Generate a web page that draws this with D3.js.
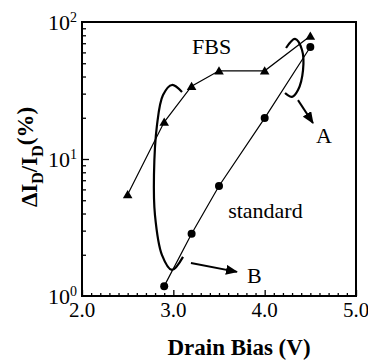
<!DOCTYPE html>
<html>
<head>
<meta charset="utf-8">
<script src="https://cdn.jsdelivr.net/npm/d3@7"></script>
<style>
  body { margin: 0; background: #fff; }
</style>
</head>
<body>
<div id="chart"></div>
<script>
// data
const fbsBias = [2.5, 2.9, 3.2, 3.5, 4.0, 4.5];
const fbsDelta = [5.5, 18.6, 34, 44, 44, 79];
const stdBias = [2.9, 3.2, 3.5, 4.0, 4.5];
const stdDelta = [1.18, 2.85, 6.35, 19.9, 65.7];

const xTickLabels = [2.0, 3.0, 4.0, 5.0];
const yTickLabels = [{ v: 1, e: '0' }, { v: 10, e: '1' }, { v: 100, e: '2' }];

// annotation curves, in data units (bias, %)
const loopA = [[4.234, 64.6], [4.332, 75.2], [4.409, 62.5], [4.42, 44.6], [4.365, 31.9], [4.299, 28.4], [4.223, 30.3]];
const loopB = [[3.095, 30.8], [2.985, 34.7], [2.887, 29.3], [2.821, 17.7], [2.788, 7.64], [2.799, 3.9], [2.876, 1.99], [2.985, 1.55], [3.106, 1.93]];
const arrowA = [[4.365, 26.9], [4.529, 18.3]];
const arrowB = [[3.193, 1.74], [3.697, 1.5]];
const labels = [
  { t: 'FBS', x: 3.42, y: 58.4, anchor: 'middle' },
  { t: 'standard', x: 3.6, y: 3.71, anchor: 'start' },
  { t: 'A', x: 4.562, y: 13.1, anchor: 'start' },
  { t: 'B', x: 3.807, y: 1.24, anchor: 'start' }
];

const FONT = '"Liberation Serif", "DejaVu Serif", "Times New Roman", serif';
const width = 368, height = 362;
const mLeft = 82, mRight = 356, mTop = 22, mBottom = 296;

const svg = d3.select('#chart').append('svg')
  .attr('width', width)
  .attr('height', height)
  .attr('font-family', FONT);

const x = d3.scaleLinear().domain([2, 5]).range([mLeft, mRight]);
const y = d3.scaleLog().domain([1, 100]).range([mBottom, mTop]);

// x ticks, inward
const xMinor = d3.range(20, 51).map(d => d / 10).filter(d => Math.abs(d - Math.round(d)) > 0.01);
svg.append('g')
  .attr('transform', 'translate(0,' + mBottom + ')')
  .call(d3.axisBottom(x).tickValues(xMinor).tickSize(-3).tickFormat(''))
  .call(g => g.select('.domain').remove());
svg.append('g')
  .attr('transform', 'translate(0,' + mBottom + ')')
  .call(d3.axisBottom(x).tickValues(xTickLabels).tickSize(-6).tickFormat(''))
  .call(g => g.select('.domain').remove());

// y ticks, inward
const yMinor = [];
for (const dec of [1, 10]) {
  for (let k = 2; k <= 9; k++) { yMinor.push(dec * k); }
}
svg.append('g')
  .attr('transform', 'translate(' + mLeft + ',0)')
  .call(d3.axisLeft(y).tickValues(yMinor).tickSize(-4).tickFormat(''))
  .call(g => g.select('.domain').remove());
svg.append('g')
  .attr('transform', 'translate(' + mLeft + ',0)')
  .call(d3.axisLeft(y).tickValues([10]).tickSize(-7).tickFormat(''))
  .call(g => g.select('.domain').remove());

svg.selectAll('.tick line').attr('stroke', '#000').attr('stroke-width', 1.3);

// frame
svg.append('rect')
  .attr('x', mLeft).attr('y', mTop)
  .attr('width', mRight - mLeft).attr('height', mBottom - mTop)
  .attr('fill', 'none')
  .attr('stroke', '#000')
  .attr('stroke-width', 2);

// tick labels
svg.selectAll('text.xlab')
  .data(xTickLabels)
  .enter()
  .append('text')
  .attr('class', 'xlab')
  .attr('x', d => x(d))
  .attr('y', 317)
  .attr('text-anchor', 'middle')
  .style('font-family', FONT)
  .style('font-size', '21px')
  .text(d => d.toFixed(1));

const ylab = svg.selectAll('text.ylab')
  .data(yTickLabels)
  .enter()
  .append('text')
  .attr('class', 'ylab')
  .attr('x', 77)
  .attr('y', d => y(d.v) + 7.5)
  .attr('text-anchor', 'end')
  .style('font-family', FONT)
  .style('font-size', '22px');
ylab.append('tspan').text('10');
ylab.append('tspan').attr('dy', -8).style('font-size', '14px').text(d => d.e);

// axis titles
svg.append('text')
  .attr('x', 239)
  .attr('y', 355)
  .attr('text-anchor', 'middle')
  .style('font-family', FONT)
  .style('font-size', '23px')
  .style('font-weight', 'bold')
  .text('Drain Bias (V)');

const yt = svg.append('text')
  .attr('transform', 'translate(37,157) rotate(-90)')
  .attr('text-anchor', 'middle')
  .style('font-family', FONT)
  .style('font-size', '23px')
  .style('font-weight', 'bold');
yt.append('tspan').text('\u0394I');
yt.append('tspan').attr('dy', 6).style('font-size', '16px').text('D');
yt.append('tspan').attr('dy', -6).text('/I');
yt.append('tspan').attr('dy', 6).style('font-size', '16px').text('D');
yt.append('tspan').attr('dy', -10).text('(%)');

// series lines
const line = d3.line()
  .x(d => x(d[0]))
  .y(d => y(d[1]));

const fbsPts = fbsBias.map((b, i) => [b, fbsDelta[i]]);
const stdPts = stdBias.map((b, i) => [b, stdDelta[i]]);

svg.append('path')
  .datum(fbsPts)
  .attr('fill', 'none')
  .attr('stroke', '#000')
  .attr('stroke-width', 1.2)
  .attr('d', line);

svg.append('path')
  .datum(stdPts)
  .attr('fill', 'none')
  .attr('stroke', '#000')
  .attr('stroke-width', 1.2)
  .attr('d', line);

// markers
svg.selectAll('path.tri')
  .data(fbsPts)
  .enter()
  .append('path')
  .attr('class', 'tri')
  .attr('d', d3.symbol().type(d3.symbolTriangle).size(40))
  .attr('transform', d => 'translate(' + x(d[0]) + ',' + (y(d[1]) + 1) + ')')
  .attr('fill', '#000');

svg.selectAll('circle.std')
  .data(stdPts)
  .enter()
  .append('circle')
  .attr('class', 'std')
  .attr('cx', d => x(d[0]))
  .attr('cy', d => y(d[1]))
  .attr('r', 4)
  .attr('fill', '#000');

// annotations
svg.append('defs').append('marker')
  .attr('id', 'head')
  .attr('markerUnits', 'userSpaceOnUse')
  .attr('viewBox', '0 0 12 10')
  .attr('refX', 11).attr('refY', 5)
  .attr('markerWidth', 12).attr('markerHeight', 10)
  .attr('orient', 'auto')
  .append('path')
  .attr('d', 'M0,0L12,5L0,10Z')
  .attr('fill', '#000');

const curve = d3.line()
  .x(d => x(d[0]))
  .y(d => y(d[1]))
  .curve(d3.curveCatmullRom);

for (const c of [loopA, loopB]) {
  svg.append('path')
    .datum(c)
    .attr('fill', 'none')
    .attr('stroke', '#000')
    .attr('stroke-width', 2.2)
    .attr('d', curve);
}

for (const a of [arrowA, arrowB]) {
  svg.append('path')
    .datum(a)
    .attr('fill', 'none')
    .attr('stroke', '#000')
    .attr('stroke-width', 2)
    .attr('marker-end', 'url(#head)')
    .attr('d', line);
}

svg.selectAll('text.note')
  .data(labels)
  .enter()
  .append('text')
  .attr('class', 'note')
  .attr('x', d => x(d.x))
  .attr('y', d => y(d.y))
  .attr('text-anchor', d => d.anchor)
  .style('font-family', FONT)
  .style('font-size', '22px')
  .text(d => d.t);
</script>
</body>
</html>
